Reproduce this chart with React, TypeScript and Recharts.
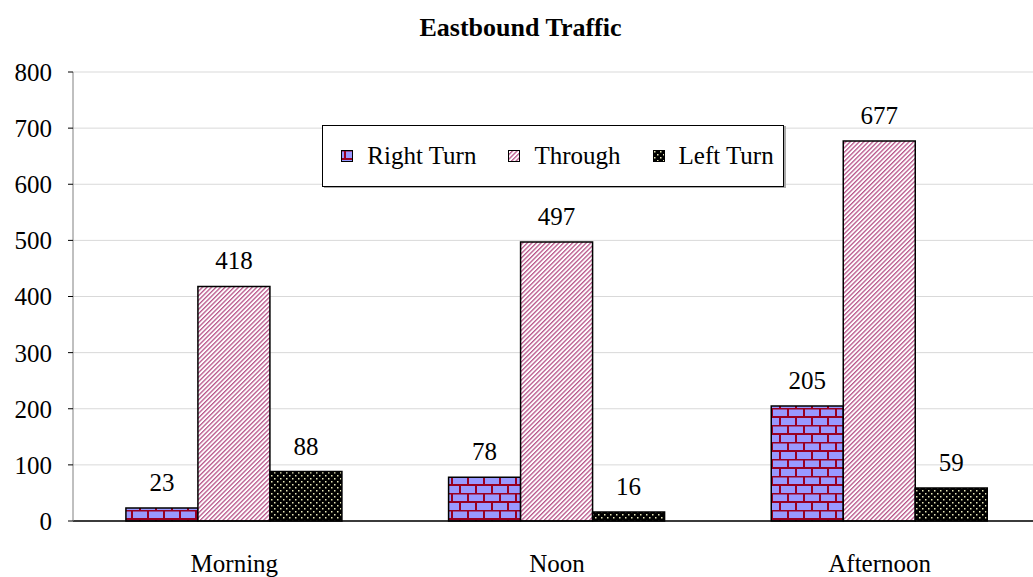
import React from "react";
import {
  BarChart,
  Bar,
  XAxis,
  YAxis,
  CartesianGrid,
  Legend,
  LabelList,
} from "recharts";

const periods = ["Morning", "Noon", "Afternoon"];
const rightTurn = [23, 78, 205];
const through = [418, 497, 677];
const leftTurn = [88, 16, 59];
const yTicks = [0, 100, 200, 300, 400, 500, 600, 700, 800];

const data = periods.map((period, i) => ({
  period,
  rightTurn: rightTurn[i],
  through: through[i],
  leftTurn: leftTurn[i],
}));

const FONT = "'Times New Roman', 'Liberation Serif', serif";

const seriesInfo = [
  { key: "rightTurn", name: "Right Turn", fill: "url(#brick)" },
  { key: "through", name: "Through", fill: "url(#stripes)" },
  { key: "leftTurn", name: "Left Turn", fill: "url(#dots)" },
];

// Boxed legend with small pattern swatches
const LegendBox = () => (
  <div
    style={{
      boxSizing: "border-box",
      width: 462,
      height: 62,
      paddingLeft: 9,
      border: "1px solid #000",
      background: "#fff",
      boxShadow: "2px 1px 0 #aaa",
      display: "flex",
      alignItems: "center",
      justifyContent: "center",
      gap: 32,
      fontFamily: FONT,
      fontSize: 25,
      color: "#000",
    }}
  >
    {seriesInfo.map((s) => (
      <div key={s.key} style={{ display: "flex", alignItems: "center", gap: 14 }}>
        <svg width={12} height={12}>
          <rect x={0.5} y={0.5} width={11} height={11} fill={s.fill} stroke="#000" />
        </svg>
        <span>{s.name}</span>
      </div>
    ))}
  </div>
);

export default function App() {
  return (
    <div
      style={{
        position: "absolute",
        left: 0,
        top: 0,
        width: 1033,
        height: 577,
        overflow: "hidden",
        background: "#fff",
      }}
    >
      <div
        style={{
          position: "absolute",
          left: 4,
          top: 15,
          width: 1033,
          textAlign: "center",
          fontFamily: FONT,
          fontWeight: 700,
          fontSize: 26,
          lineHeight: "26px",
        }}
      >
        Eastbound Traffic
      </div>
      {/* plot area runs a little past the right edge of the frame */}
      <BarChart
        width={1041}
        height={577}
        data={data}
        margin={{ top: 72, right: 0, left: 0, bottom: 0 }}
        barCategoryGap="16.4%"
        barGap={0}
      >
        <defs>
          <pattern id="brick" width={16} height={17} patternUnits="userSpaceOnUse">
            <rect width={16} height={17} fill="#9999ff" />
            <path d="M0 0.5H16M0 9H16M4 0V9M12 9V17" stroke="#990022" strokeWidth={2} />
          </pattern>
          <pattern
            id="stripes"
            width={3.2}
            height={4}
            patternUnits="userSpaceOnUse"
            patternTransform="rotate(45)"
          >
            <rect width={3.2} height={4} fill="#fff" />
            <rect x={0} y={0} width={1.3} height={4} fill="#b8558a" />
          </pattern>
          <pattern id="dots" width={6} height={6} patternUnits="userSpaceOnUse">
            <rect width={6} height={6} fill="#000" />
            <rect x={1} y={1} width={1.5} height={1.5} fill="#e8e8b8" />
            <rect x={4} y={4} width={1.5} height={1.5} fill="#e8e8b8" />
          </pattern>
        </defs>
        <CartesianGrid vertical={false} stroke="#d9d9d9" />
        <XAxis
          dataKey="period"
          height={56}
          tickLine={false}
          tickSize={0}
          tickMargin={33}
          axisLine={{ stroke: "#000", strokeWidth: 1.5 }}
          tick={{ fill: "#000", fontSize: 25, fontFamily: FONT }}
        />
        <YAxis
          width={73}
          domain={[0, 800]}
          ticks={yTicks}
          interval={0}
          tickSize={5}
          tickMargin={16}
          axisLine={{ stroke: "#808080" }}
          tickLine={{ stroke: "#000" }}
          tick={{ fill: "#000", fontSize: 25, fontFamily: FONT }}
        />
        <Legend
          layout="horizontal"
          verticalAlign="middle"
          align="center"
          content={<LegendBox />}
          wrapperStyle={{ left: 322, top: 125, width: 462 }}
        />
        {seriesInfo.map((s) => (
          <Bar
            key={s.key}
            dataKey={s.key}
            name={s.name}
            fill={s.fill}
            stroke="#000"
            strokeWidth={1.5}
            isAnimationActive={false}
          >
            <LabelList
              dataKey={s.key}
              position="top"
              offset={17}
              fill="#000"
              fontSize={25}
              fontFamily={FONT}
            />
          </Bar>
        ))}
      </BarChart>
    </div>
  );
}
